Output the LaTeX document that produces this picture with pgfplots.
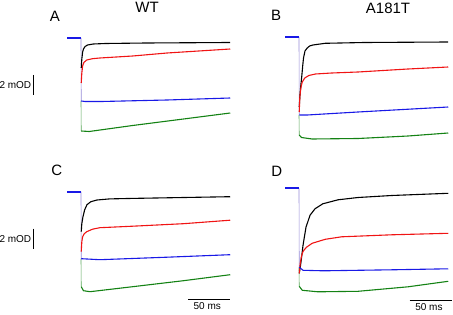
\documentclass[border=0pt]{standalone}
\usepackage{pgfplots}
\pgfplotsset{compat=1.18}
\usepackage{fontspec}
\setmainfont{Liberation Sans}
\definecolor{tgreen}{RGB}{20,130,20}
\definecolor{tred}{RGB}{240,20,20}
\definecolor{tblue}{RGB}{25,25,230}
\definecolor{dropc}{RGB}{150,140,215}
\pgfplotsset{
  trace/.style={no marks, line width=1.1bp, line join=round},
  drop/.style={no marks, line width=0.6bp},
  panel/.style={scale only axis, x=0.82bp, y=10bp, xmin=-17, xmax=182, ymin=-11, ymax=0.5,
    hide axis, clip=false, anchor=south west},
}
\tikzset{big/.style={font=\fontsize{15bp}{17bp}\selectfont}, small/.style={font=\fontsize{10bp}{12bp}\selectfont}}
\begin{document}
\begin{tikzpicture}
\useasboundingbox (0,0) rectangle (453bp,315bp);
% Panel A
\begin{axis}[panel, at={(67.06bp,167bp)}]
\addplot[drop, tgreen!70] coordinates {(0,-6.3)(0.3,-9.3)};
\addplot[drop, dropc] coordinates {(0,0)(0.3,-6.3)};
\addplot[trace, tgreen] coordinates {(0.3,-9.3)(10,-9.35)(63,-8.75)(125,-8.1)(182,-7.5)};
\addplot[trace, black] coordinates {(0.3,-3.0)(1,-2.1)(2,-1.4)(3,-1.1)(5,-0.85)(8,-0.7)(15,-0.6)(30,-0.55)(80,-0.5)(182,-0.45)};
\addplot[trace, tred] coordinates {(0.3,-4.5)(1,-3.5)(2,-2.8)(3.5,-2.45)(7,-2.2)(14,-2.07)(23,-2.0)(63,-1.8)(105,-1.5)(182,-1.1)};
\addplot[trace, tblue] coordinates {(0.3,-6.3)(5,-6.35)(25,-6.35)(105,-6.2)(182,-6.0)};
\addplot[no marks, tblue, line width=2.2bp] coordinates {(-17,0)(-0.3,0)};
\draw[line width=0.8bp] (axis cs:-58.5,-3.7) -- (axis cs:-58.5,-5.7);
\node[small, anchor=east, inner sep=0pt] at (axis cs:-60.5,-4.7) {2 mOD};
\end{axis}
% Panel B
\begin{axis}[panel, at={(285.06bp,168bp)}]
\addplot[drop, tgreen!70] coordinates {(0,-7.8)(0.3,-9.8)};
\addplot[drop, dropc] coordinates {(0,0)(0.3,-7.8)};
\addplot[trace, tgreen] coordinates {(0.3,-9.8)(3,-10.05)(16,-10.2)(72,-10.15)(133,-9.9)(182,-9.6)};
\addplot[trace, black] coordinates {(0.3,-7)(1,-6)(2,-5)(3.3,-4)(4.5,-2.9)(5.5,-2.1)(7.3,-1.4)(10,-1.1)(13,-0.9)(17,-0.8)(32,-0.63)(80,-0.55)(182,-0.5)};
\addplot[trace, tred] coordinates {(0.3,-7.5)(1,-6)(1.8,-5.4)(2.5,-5.0)(4,-4.5)(7,-4.1)(12,-3.85)(20,-3.7)(40,-3.6)(72,-3.5)(133,-3.2)(182,-3.0)};
\addplot[trace, tblue] coordinates {(0.3,-7.8)(10,-7.8)(72,-7.5)(182,-7.0)};
\addplot[no marks, tblue, line width=2.2bp] coordinates {(-17,0)(-0.3,0)};
\end{axis}
% Panel C
\begin{axis}[panel, at={(67.06bp,13.3bp)}]
\addplot[drop, tgreen!70] coordinates {(0,-6.7)(0.3,-9.5)};
\addplot[drop, dropc] coordinates {(0,0)(0.3,-6.7)};
\addplot[trace, tgreen] coordinates {(0.3,-9.5)(3,-9.9)(11,-10.0)(63,-9.5)(125,-8.9)(182,-8.3)};
\addplot[trace, black] coordinates {(0.3,-4)(1,-3.2)(2.4,-2.5)(4.5,-1.8)(7.3,-1.3)(12,-1.0)(19.5,-0.83)(35,-0.72)(63,-0.67)(182,-0.5)};
\addplot[trace, tred] coordinates {(0.3,-6)(1,-5)(2,-4.5)(4,-4.2)(7,-4.0)(14,-3.75)(23,-3.6)(63,-3.45)(125,-3.2)(182,-2.85)};
\addplot[trace, tblue] coordinates {(0.3,-6.7)(23,-6.8)(105,-6.55)(182,-6.3)};
\addplot[no marks, tblue, line width=2.2bp] coordinates {(-17,0)(-0.3,0)};
\draw[line width=0.8bp] (axis cs:-58.5,-3.7) -- (axis cs:-58.5,-5.7);
\node[small, anchor=east, inner sep=0pt] at (axis cs:-60.5,-4.7) {2 mOD};
\draw[line width=0.8bp] (axis cs:130.5,-10.8) -- (axis cs:182,-10.8);
\node[small, inner sep=0pt] at (axis cs:154,-11.45) {50 ms};
\end{axis}
% Panel D
\begin{axis}[panel, at={(285.06bp,16.7bp)}]
\addplot[drop, tgreen!70] coordinates {(0,-7.9)(0.3,-9.8)};
\addplot[drop, dropc] coordinates {(0,0)(0.3,-7.9)};
\addplot[trace, tgreen] coordinates {(0.3,-9.8)(4,-10.2)(23,-10.35)(72,-10.3)(133,-9.85)(182,-9.3)};
\addplot[trace, black] coordinates {(0.3,-8.5)(1.5,-7.9)(2.4,-7.4)(4.9,-5.7)(8.5,-3.9)(13.4,-2.7)(19.5,-2.05)(29,-1.55)(47.6,-1.15)(72,-0.92)(113,-0.72)(182,-0.5)};
\addplot[trace, tred] coordinates {(0.3,-8.5)(1.5,-7.5)(3,-6.8)(5,-6.3)(9,-5.9)(16,-5.5)(32,-5.1)(52,-4.85)(113,-4.65)(182,-4.5)};
\addplot[trace, tblue] coordinates {(0.3,-7.9)(5,-8.2)(30,-8.25)(113,-8.15)(182,-8.05)};
\addplot[no marks, tblue, line width=2.2bp] coordinates {(-17,0)(-0.3,0)};
\draw[line width=0.8bp] (axis cs:135,-11.2) -- (axis cs:186,-11.2);
\node[small, inner sep=0pt] at (axis cs:158.5,-11.9) {50 ms};
\end{axis}
% labels
\node[big] at (55bp,299bp) {A};
\node[big] at (147bp,307.2bp) {WT};
\node[big] at (276bp,299.3bp) {B};
\node[big] at (388bp,306.7bp) {A181T};
\node[big] at (56.7bp,144.2bp) {C};
\node[big] at (276.7bp,143.8bp) {D};
\end{tikzpicture}
\end{document}
